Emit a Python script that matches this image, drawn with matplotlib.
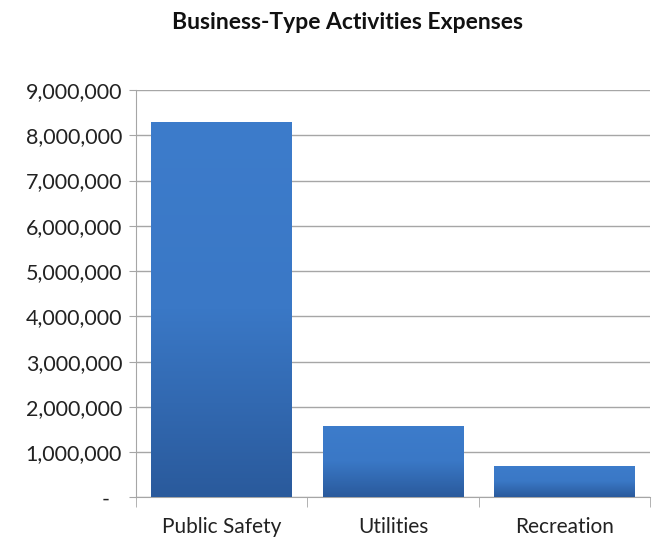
import matplotlib.pyplot as plt
import matplotlib.transforms as mtransforms
import numpy as np
from matplotlib.colors import LinearSegmentedColormap
from matplotlib.ticker import FuncFormatter

categories = ['Public Safety', 'Utilities', 'Recreation']
expenses = [8300000, 1570000, 690000]
y_ticks = list(range(0, 9000001, 1000000))

plt.rcParams['font.family'] = ['Lato', 'DejaVu Sans']

fig = plt.figure(figsize=(6.54, 5.39), dpi=100)
ax = fig.add_axes([0.208, 0.077, 0.786, 0.756])

x = np.arange(len(categories))
bars = ax.bar(x, expenses, width=0.82, color='#3470BD', zorder=2)

# vertical shading on each bar: lighter at the top, darker at the base
shade = LinearSegmentedColormap.from_list('shade', ['#2A5A9C', '#3A78C6', '#3D7CCB'])
grad = np.linspace(0, 1, 256).reshape(-1, 1)
for b in bars:
    x0, y0 = b.get_x(), b.get_y()
    w, h = b.get_width(), b.get_height()
    im = ax.imshow(grad, cmap=shade, origin='lower', aspect='auto',
                   extent=[x0, x0 + w, y0, y0 + h], zorder=3)
    im.set_clip_path(b)

ax.set_yticks(y_ticks)
ax.yaxis.set_major_formatter(FuncFormatter(lambda v, p: '-' if v == 0 else f'{int(v):,}'))
ax.set_xticks(x)
ax.set_xticklabels(categories)
ax.set_xticks(np.arange(-0.5, len(categories)), minor=True)

ax.grid(axis='y', color='#A6A6A6', linewidth=1, zorder=0)
for side in ['top', 'right']:
    ax.spines[side].set_visible(False)
for side in ['left', 'bottom']:
    ax.spines[side].set_color('#A6A6A6')

ax.tick_params(axis='y', length=5, color='#A6A6A6', labelsize=15.5, pad=5, labelcolor='#222222')
ax.tick_params(axis='x', which='major', length=0, labelsize=15, pad=14, labelcolor='#222222')
ax.tick_params(axis='x', which='minor', length=7, color='#A6A6A6')

# the dash for zero sits further left, like accounting format
zero_label = ax.yaxis.get_major_ticks()[0].label1
zero_label.set_transform(zero_label.get_transform() +
                         mtransforms.ScaledTranslation(-0.13, 0, fig.dpi_scale_trans))

ax.set_xlim(-0.5, len(categories) - 0.5)
ax.set_ylim(0, 9000000)

fig.text(0.532, 0.958, 'Business-Type Activities Expenses', ha='center', va='center',
         fontsize=16.5, fontweight='bold', color='#111111')

fig.savefig('out.png', dpi=100)
